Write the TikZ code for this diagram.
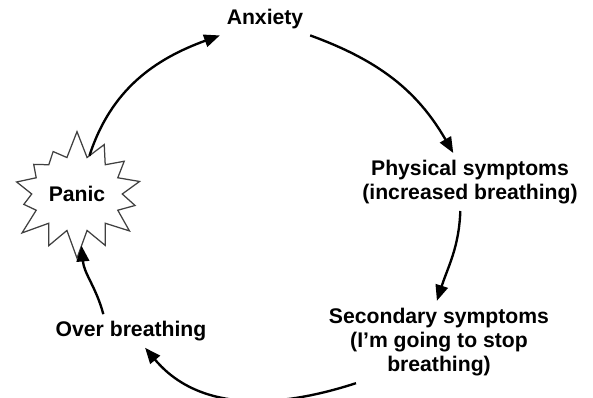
\documentclass[tikz,border=0pt]{standalone}
\usepackage{fontspec}
\setmainfont{Liberation Sans}
\usetikzlibrary{arrows.meta, shapes.symbols}
\tikzset{
	cnode/.style={align=center, font=\fontsize{15.3}{17.6}\selectfont\bfseries,
		inner sep=2pt, outer sep=3pt},
	burst/.style={starburst, starburst points=14, starburst point height=7mm,
		random starburst=7, draw=black!75, line width=0.9pt, fill=white,
		minimum width=37mm, minimum height=33mm, outer sep=0pt},
	carr/.style={-{Triangle[length=4mm, width=3.2mm]}, line width=1.7pt}
}

\begin{document}
\begin{tikzpicture}[x=0.254mm, y=0.254mm]
	\useasboundingbox (0,0) rectangle (593,398);
	\node[cnode] (anxiety) at (265,379) {Anxiety};
	\node[cnode] (physical) at (470,216) {Physical symptoms\\(increased breathing)};
	\node[cnode] (secondary) at (439,56) {Secondary symptoms\\(I’m going to stop\\breathing)};
	\node[cnode] (overbr) at (131,67) {Over breathing};
	\node[cnode, burst] (panic) at (77,204) {Panic};
	\draw[carr] (panic) to[out=72, in=200] (anxiety);
	\draw[carr] (anxiety) to[out=-20, in=120] (physical);
	\draw[carr] ([xshift=-7pt]physical.south) to[out=-92, in=72] ([xshift=-1.5pt]secondary.north);
	\draw[carr] ([xshift=-60pt]secondary.south) to[out=198, in=-50] (overbr);
	\draw[carr] ([xshift=-20pt]overbr.north) to[out=105, in=-85] (panic);
\end{tikzpicture}
\end{document}
